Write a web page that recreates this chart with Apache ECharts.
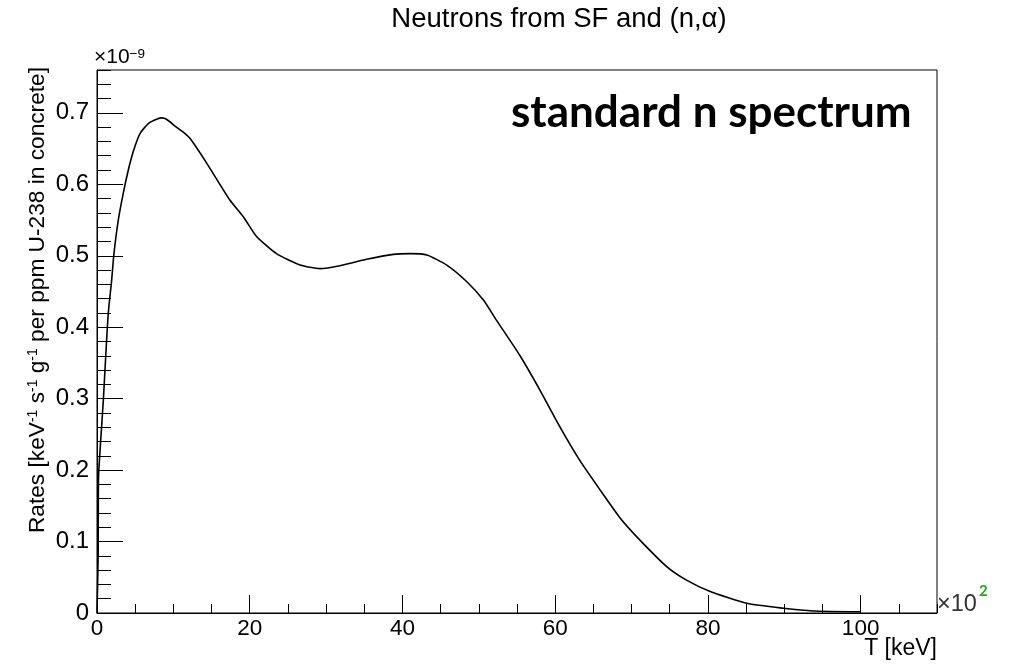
<!DOCTYPE html>
<html><head><meta charset="utf-8">
<script src="https://cdn.jsdelivr.net/npm/echarts@6/dist/echarts.min.js"></script>
<style>html,body{margin:0;padding:0;background:#fff}#c{width:1012px;height:664px}</style>
</head><body><div id="c"></div>
<script>
// T in units of 10^2 keV, rates in units of 10^-9
const energies = [0, 0.15, 0.2, 0.52, 0.83, 1.14, 1.48, 1.92, 2.23, 2.79, 3.45, 4.1, 4.75, 5.63, 6.72, 7.8, 8.5, 9.1, 10.4, 11.3, 12.2, 14.4, 17.4, 19.2, 20.9, 23.5, 26.6, 29.2, 31.8, 35.3, 38.8, 41.0, 43.2, 45.8, 48.4, 50.6, 52.3, 55.4, 58.0, 60.6, 63.2, 65.9, 68.5, 71.1, 74.6, 77.2, 80.3, 85.1, 89.9, 93.8, 100];
const rates = [0, 0.08, 0.19, 0.247, 0.298, 0.359, 0.42, 0.466, 0.504, 0.55, 0.588, 0.62, 0.646, 0.671, 0.685, 0.691, 0.693, 0.691, 0.68, 0.673, 0.664, 0.629, 0.578, 0.554, 0.527, 0.503, 0.487, 0.482, 0.486, 0.495, 0.502, 0.503, 0.501, 0.487, 0.464, 0.438, 0.41, 0.36, 0.312, 0.261, 0.214, 0.172, 0.133, 0.102, 0.065, 0.046, 0.030, 0.0136, 0.0066, 0.0028, 0.0018];
const titleText = 'Neutrons from SF and (n,\u03b1)';
const yTitle = '{n|Rates [keV}{s|-1}{n| s}{s|-1}{n| g}{s|-1}{n| per ppm U-238 in concrete]}';
const xTitle = 'T [keV]';
const annotation = 'standard n spectrum';

const FONT = 'Liberation Sans';
const chart = echarts.init(document.getElementById('c'), null, {renderer: 'canvas'});
const tickStyle = {color: '#000', width: 1};
const option = {
  animation: false,
  backgroundColor: '#fff',
  grid: {left: 97, right: 75, top: 70, bottom: 51, show: true, borderColor: '#000', borderWidth: 1, backgroundColor: 'transparent'},
  xAxis: [
    {type: 'value', min: 0, max: 110, interval: 20,
     axisLine: {lineStyle: {color: '#000', width: 1}},
     axisTick: {inside: true, length: 18, lineStyle: tickStyle},
     axisLabel: {fontFamily: FONT, fontSize: 22.5, color: '#000', margin: 4, showMaxLabel: false},
     splitLine: {show: false}},
    {type: 'value', min: 0, max: 110, interval: 5, position: 'bottom',
     axisLine: {show: false},
     axisTick: {inside: true, length: 9, lineStyle: tickStyle},
     axisLabel: {show: false}, splitLine: {show: false}}
  ],
  yAxis: [
    {type: 'value', min: 0, max: 0.76, interval: 0.1,
     axisLine: {show: true, lineStyle: {color: '#000', width: 1}},
     axisTick: {show: true, inside: true, length: 26, lineStyle: tickStyle},
     axisLabel: {fontFamily: FONT, fontSize: 24, color: '#000', margin: 8, showMaxLabel: false},
     splitLine: {show: false}},
    {type: 'value', min: 0, max: 0.76, interval: 0.02, position: 'left',
     axisLine: {show: false},
     axisTick: {show: true, inside: true, length: 14, lineStyle: tickStyle},
     axisLabel: {show: false}, splitLine: {show: false}}
  ],
  series: [{
    type: 'line', xAxisIndex: 0, yAxisIndex: 0,
    data: energies.map((e, i) => [e, rates[i]]),
    showSymbol: false, smooth: 0.2,
    lineStyle: {color: '#000', width: 1.6}
  }],
  graphic: [
    {type: 'text', x: 559, y: 5, style: {text: titleText, fontFamily: FONT, fontSize: 27.5, fill: '#000', align: 'center', verticalAlign: 'top'}},
    {type: 'text', x: 38, y: 67, rotation: Math.PI / 2, style: {text: yTitle, align: 'right', verticalAlign: 'middle',
      rich: {n: {fontFamily: FONT, fontSize: 22.7, fill: '#000', color: '#000'}, s: {fontFamily: FONT, fontSize: 14, fill: '#000', color: '#000', verticalAlign: 'top'}}}},
    {type: 'text', x: 94, y: 68, style: {text: '{n|\u00d710}{s|\u22129}', align: 'left', verticalAlign: 'bottom',
      rich: {n: {fontFamily: FONT, fontSize: 21, fill: '#000', color: '#000'}, s: {fontFamily: FONT, fontSize: 13.5, fill: '#000', color: '#000', verticalAlign: 'top'}}}},
    {type: 'text', x: 937, y: 617, style: {text: '\u00d710', fontFamily: FONT, fontSize: 23.5, fill: '#333', align: 'left', verticalAlign: 'bottom'}},
    {type: 'text', x: 979, y: 584, style: {text: '2', fontFamily: 'Lato', fontWeight: 'bold', fontSize: 15, fill: '#22a022', align: 'left', verticalAlign: 'top'}},
    {type: 'text', x: 937, y: 637, style: {text: xTitle, fontFamily: FONT, fontSize: 23, fill: '#000', align: 'right', verticalAlign: 'top'}},
    {type: 'text', x: 511, y: 113, style: {text: annotation, fontFamily: 'Lato', fontWeight: 'bold', fontSize: 44, fill: '#000', align: 'left', verticalAlign: 'middle'}}
  ]
};
chart.setOption(option);
</script>
</body></html>
